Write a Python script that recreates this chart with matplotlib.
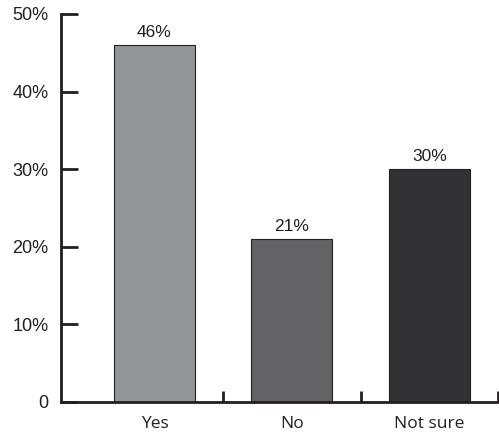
import matplotlib
matplotlib.use('Agg')
import matplotlib.pyplot as plt

categories = ['Yes', 'No', 'Not sure']
values = [46, 21, 30]
bar_colors = ['#939598', '#636365', '#323133']
y_ticks = [0, 10, 20, 30, 40, 50]
y_labels = ['0', '10%', '20%', '30%', '40%', '50%']

plt.rcParams['font.family'] = ['Liberation Sans', 'DejaVu Sans']

fig = plt.figure(figsize=(4.99, 4.36), dpi=100)
ax = fig.add_axes([0.1222, 0.078, 0.876, 0.89])

x = list(range(len(categories)))
bars = ax.bar(x, values, width=0.59, color=bar_colors, edgecolor='#222222', linewidth=0.8)
for xi, v in zip(x, values):
    ax.text(xi, v + 0.7, '%d%%' % v, ha='center', va='bottom', fontsize=12.5, color='#231f20')

ax.set_xlim(-0.68, 2.5)
ax.set_ylim(0, 50)

ax.spines['top'].set_visible(False)
ax.spines['right'].set_visible(False)
for s in ('left', 'bottom'):
    ax.spines[s].set_linewidth(2)
    ax.spines[s].set_color('#231f20')

ax.set_yticks(y_ticks)
ax.set_yticklabels(y_labels)
ax.tick_params(axis='y', direction='in', length=12, width=2, color='#231f20',
               labelsize=13, pad=9, labelcolor='#231f20')

# category labels without ticks, small ticks between the groups
ax.set_xticks(x)
ax.set_xticklabels(categories, family=['Open Sans', 'DejaVu Sans'])
ax.tick_params(axis='x', length=0, labelsize=12.5, pad=10, labelcolor='#231f20')
ax.set_xticks([0.5, 1.5, 2.5], minor=True)
ax.tick_params(axis='x', which='minor', direction='in', length=8, width=2, color='#231f20')

fig.savefig('out.png', dpi=100)
